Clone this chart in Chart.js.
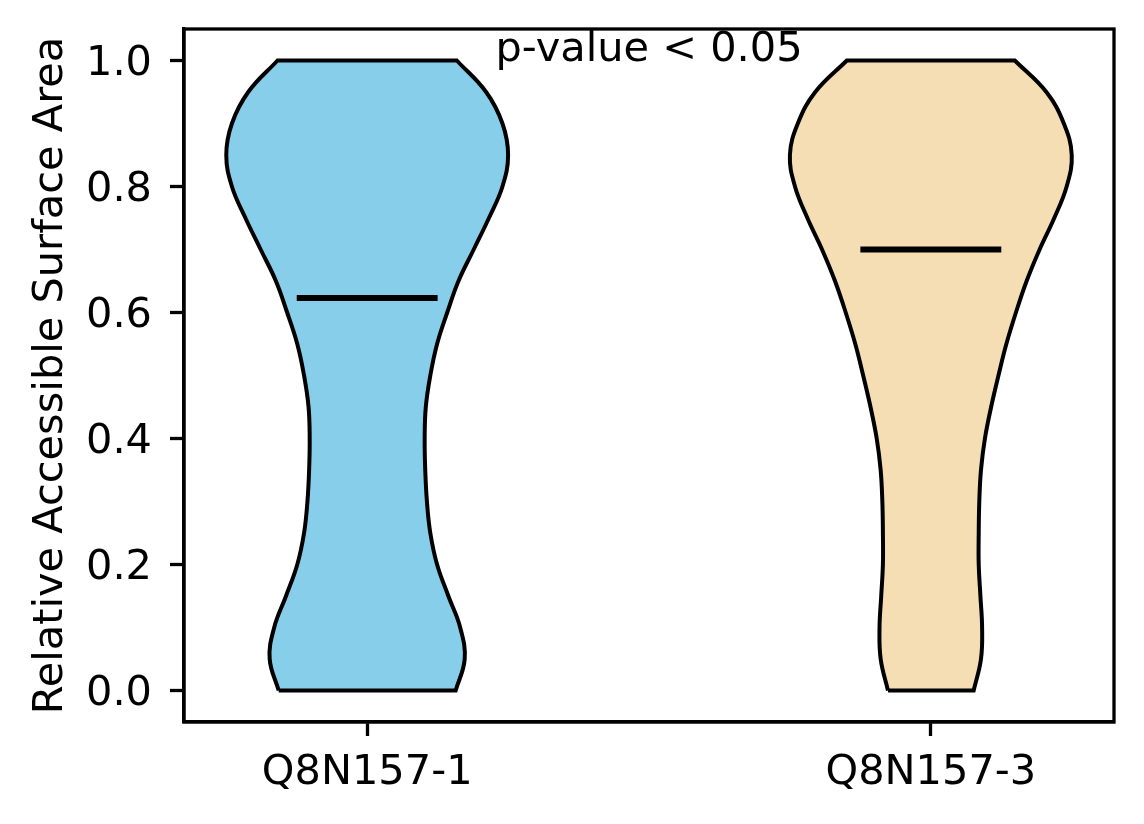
<!DOCTYPE html>
<html>
<head>
<meta charset="utf-8">
<script src="https://cdn.jsdelivr.net/npm/chart.js@4.4.1/dist/chart.umd.min.js"></script>
<style>
  html, body { margin: 0; padding: 0; background: #fff; }
  #wrap { width: 1144px; height: 824px; }
</style>
</head>
<body>
<div id="wrap"><canvas id="violin" width="1144" height="824"></canvas></div>
<script>
// --- data ---
const categories = ['Q8N157-1', 'Q8N157-3'];
const positions = [1, 2];
const yTicks = [0.0, 0.2, 0.4, 0.6, 0.8, 1.0];
const medians = [0.623, 0.700];
const pValueText = 'p-value < 0.05';

// y levels at which the violin half-width (in x units) was read
const levels = [0.00, 0.05, 0.10, 0.15, 0.20, 0.25, 0.30, 0.35, 0.40, 0.45, 0.50,
                0.55, 0.60, 0.65, 0.70, 0.75, 0.80, 0.85, 0.90, 0.95, 1.00];
const halfWidth1 = [0.157, 0.173, 0.165, 0.144, 0.124, 0.112, 0.106, 0.103, 0.102, 0.104, 0.112,
                    0.124, 0.142, 0.162, 0.189, 0.216, 0.240, 0.250, 0.240, 0.211, 0.159];
const halfWidth2 = [0.076, 0.089, 0.091, 0.088, 0.085, 0.085, 0.086, 0.089, 0.096, 0.107, 0.120,
                    0.134, 0.151, 0.170, 0.193, 0.219, 0.241, 0.250, 0.236, 0.205, 0.149];
// --- end data ---

const fillColors = ['#87CEEB', '#F5DEB3'];
const MEDIAN_HALF = 0.125;
const FONT = 'DejaVu Sans';
const FONT_SIZE = 41.5;

Chart.defaults.font.family = FONT;
Chart.defaults.color = '#000';

// closed outline of one violin: left side bottom->top, right side top->bottom
// (corner points doubled so the flat top and bottom stay straight)
function outline(pos, hw) {
  const left = levels.map((y, i) => ({x: pos - hw[i], y: y}));
  const right = levels.map((y, i) => ({x: pos + hw[i], y: y})).reverse();
  const n = left.length - 1;
  return [...left, left[n], right[0], ...right, right[n], left[0]];
}

const violinSets = [halfWidth1, halfWidth2].map((hw, i) => ({
  data: outline(positions[i], hw),
  borderColor: '#000',
  borderWidth: 4,
  backgroundColor: fillColors[i],
  fill: 'shape',
  tension: 0.4,
  pointRadius: 0,
  order: 1
}));

const medianSets = medians.map((m, i) => ({
  data: [{x: positions[i] - MEDIAN_HALF, y: m}, {x: positions[i] + MEDIAN_HALF, y: m}],
  borderColor: '#000',
  borderWidth: 6,
  borderCapStyle: 'butt',
  fill: false,
  pointRadius: 0,
  order: 0
}));

// top/right frame lines and the p-value note
const extras = {
  id: 'extras',
  afterDatasetsDraw(chart) {
    const {ctx, chartArea: a, scales} = chart;
    ctx.save();
    ctx.strokeStyle = '#000';
    ctx.lineWidth = 3.3;
    ctx.strokeRect(a.left, a.top, a.right - a.left, a.bottom - a.top);
    ctx.fillStyle = '#000';
    ctx.font = FONT_SIZE + 'px "' + FONT + '"';
    ctx.textAlign = 'center';
    ctx.textBaseline = 'alphabetic';
    const px = scales.x.getPixelForValue((positions[0] + positions[1]) / 2);
    const py = scales.y.getPixelForValue(1.0);
    ctx.fillText(pValueText, px, py);
    ctx.restore();
  }
};

new Chart(document.getElementById('violin'), {
  type: 'line',
  data: { datasets: [...medianSets, ...violinSets] },
  options: {
    responsive: false,
    animation: false,
    layout: { padding: { top: 29, right: 30, left: 0, bottom: 0 } },
    plugins: { legend: { display: false }, tooltip: { enabled: false } },
    scales: {
      x: {
        type: 'linear',
        min: 0.675,
        max: 2.325,
        afterBuildTicks: (s) => { s.ticks = positions.map(v => ({value: v})); },
        afterFit: (s) => { s.height = 102; s.paddingLeft = 0; s.paddingRight = 0; },
        ticks: {
          font: { size: FONT_SIZE },
          padding: 12,
          maxRotation: 0,
          callback: (v) => categories[positions.indexOf(v)]
        },
        grid: { drawOnChartArea: false, drawTicks: true, tickLength: 14, tickWidth: 3.3, tickColor: '#000' },
        border: { display: true, color: '#000', width: 3.3 }
      },
      y: {
        type: 'linear',
        min: -0.05,
        max: 1.05,
        afterBuildTicks: (s) => { s.ticks = yTicks.map(v => ({value: v})); },
        afterFit: (s) => { s.width = 184; s.paddingTop = 0; s.paddingBottom = 0; },
        ticks: {
          font: { size: FONT_SIZE },
          padding: 18,
          labelOffset: 4,
          callback: (v) => v.toFixed(1)
        },
        grid: { drawOnChartArea: false, drawTicks: true, tickLength: 14, tickWidth: 3.3, tickColor: '#000' },
        border: { display: true, color: '#000', width: 3.3 },
        title: {
          display: true,
          text: 'Relative Accessible Surface Area',
          font: { size: FONT_SIZE, lineHeight: 1.2 },
          padding: { top: 26, bottom: 0 }
        }
      }
    }
  },
  plugins: [extras]
});
</script>
</body>
</html>
